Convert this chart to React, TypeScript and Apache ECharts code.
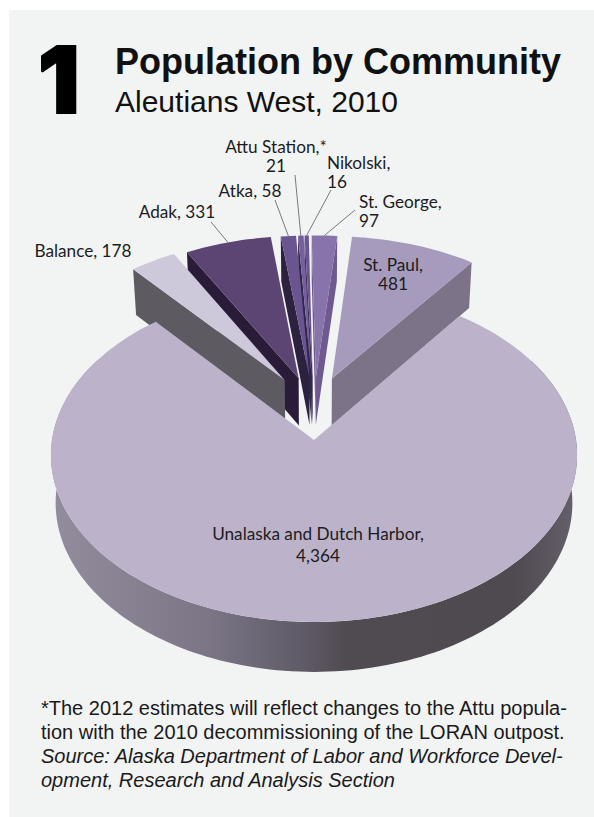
import React, { useEffect, useRef } from "react";
import * as echarts from "echarts";

// Population of each community, listed clockwise around the pie.
const communities = ["Balance", "Adak", "Atka", "Attu Station", "Nikolski", "St. George", "St. Paul", "Unalaska and Dutch Harbor"];
const population = [178, 331, 58, 21, 16, 97, 481, 4364];

const topColors = ["#cdc8da", "#5c4572", "#6b5590", "#75609c", "#6c5394", "#8874ab", "#a69bbc", "#bcb3cb"];
const sideColors = ["#5e5a62", "#2a1b38", "#2d2140", "#30254a", "#3a2c55", "#6f5a90", "#7d7389", "#504b52"];

// Label text and its placement on the page; y is the middle of the first line.
const labelText = ["Balance, 178", "Adak, 331", "Atka, 58", "Attu Station,*\n21", "Nikolski,\n16", "St. George,\n97", "St. Paul,\n481", "Unalaska and Dutch Harbor,\n4,364"];
const labelX = [83, 177, 250, 276, 327, 359, 393, 318];
const labelY = [250, 211, 190, 146, 162, 201, 264, 533];
const labelAlign = ["center", "center", "center", "center", "left", "left", "center", "center"];
const labelLeading = [19, 19, 19, 19, 19, 19, 19, 22];

// Leader lines: community index and the free end of each line.
const leaderSlice = [1, 2, 3, 4, 5];
const leaderX = [211, 275, 295, 331, 355];
const leaderY = [222, 200, 175, 190, 210];

const footnoteLines = [
  "*The 2012 estimates will reflect changes to the Attu popula-",
  "tion with the 2010 decommissioning of the LORAN outpost.",
];
const sourceLines = [
  "Source: Alaska Department of Labor and Workforce Devel-",
  "opment, Research and Analysis Section",
];

// Perspective camera for the tilted disc: unit radius, depth axis pointing away.
const CX = 314, CY = 440, FX = 262, FY = 165.6, P = 0.09, THICK = 48, NARROW = 0.018;
const project = (X: number, Y: number, h: number): number[] => {
  const w = 1 + P * Y;
  return [CX + (FX * X) / (w + NARROW * h), CY - (FY * Y) / w + h * THICK * (1 - 0.04 * Y)];
};

const START_ANGLE = -40.2;
const EXPLODE = 0.39;
const total = population.reduce((a, b) => a + b, 0);

type Slice = { start: number; end: number; ox: number; oy: number; r: number };
const slices: Slice[] = [];
{
  let a = START_ANGLE;
  population.forEach((v, i) => {
    const end = a + (v / total) * 360;
    const small = i < population.length - 1;
    const dir = (((a + end) / 2) * 0.5 * Math.PI) / 180;
    slices.push({
      start: a,
      end,
      ox: small ? EXPLODE * Math.sin(dir) : 0,
      oy: small ? EXPLODE * Math.cos(dir) : 0,
      r: 1,
    });
    a = end;
  });
}

const rim = (s: Slice, deg: number, h: number) => {
  const t = (deg * Math.PI) / 180;
  return project(s.ox + s.r * Math.sin(t), s.oy + s.r * Math.cos(t), h);
};
const arc = (s: Slice, from: number, to: number, h: number) => {
  const n = Math.max(2, Math.ceil(Math.abs(to - from) / 1.5));
  const out: number[][] = [];
  for (let i = 0; i <= n; i++) out.push(rim(s, from + ((to - from) * i) / n, h));
  return out;
};
const area = (pts: number[][]) => {
  let sum = 0;
  pts.forEach((p, i) => {
    const q = pts[(i + 1) % pts.length];
    sum += p[0] * q[1] - q[0] * p[1];
  });
  return sum;
};

// Painted from the middle of the fan outwards; the large slice comes last.
const paintOrder = slices
  .map((s, i) => ({ i, key: Math.abs((s.start + s.end) / 2) }))
  .sort((a, b) => a.key - b.key)
  .map((d) => d.i);

const rimGradient = () =>
  new echarts.graphic.LinearGradient(0, 0, 1, 0, [
    { offset: 0, color: "#928c9c" },
    { offset: 0.11, color: "#8a8494" },
    { offset: 0.3, color: "#7b7586" },
    { offset: 0.48, color: "#5f5a66" },
    { offset: 0.56, color: "#504b51" },
    { offset: 0.88, color: "#4f4a50" },
    { offset: 1, color: "#65606a" },
  ]);

const renderSlice = (params: any) => {
  const idx = paintOrder[params.dataIndex];
  const s = slices[idx];
  const apexTop = project(s.ox, s.oy, 0);
  const apexBot = project(s.ox, s.oy, 1);
  const children: any[] = [];
  const face = (points: number[][], fill: any) =>
    children.push({ type: "polygon", shape: { points }, style: { fill } });

  const left = [apexTop, rim(s, s.start, 0), rim(s, s.start, 1), apexBot];
  const right = [apexTop, rim(s, s.end, 0), rim(s, s.end, 1), apexBot];
  if (idx < population.length - 1) {
    if (area(left) < 0) face(left, sideColors[idx]);
    if (area(right) > 0) face(right, sideColors[idx]);
  } else {
    const from = Math.max(s.start, 60);
    const to = Math.min(s.end, 300);
    face([...arc(s, from, to, 0), ...arc(s, to, from, 1)], rimGradient());
  }
  face([apexTop, ...arc(s, s.start, s.end, 0)], topColors[idx]);
  return { type: "group", children };
};

const renderLeader = (params: any) => {
  const i = params.dataIndex;
  const s = slices[leaderSlice[i]];
  const end = rim(s, (s.start + s.end) / 2, 0);
  return {
    type: "line",
    shape: { x1: leaderX[i], y1: leaderY[i], x2: end[0], y2: end[1] },
    style: { stroke: "#444444", lineWidth: 0.7 },
  };
};

const LABEL_FONT = '17.2px Lato, "Open Sans", sans-serif';
const renderLabel = (params: any) => {
  const i = params.dataIndex;
  const leading = labelLeading[i];
  return {
    type: "text",
    style: {
      x: labelX[i],
      y: labelY[i] - leading / 2,
      text: labelText[i],
      font: LABEL_FONT,
      lineHeight: leading,
      fill: "#1c1c1c",
      align: labelAlign[i],
      verticalAlign: "top",
    },
  };
};

const pageText = (text: string, x: number, y: number, font: string, extra: any = {}) => ({
  type: "text",
  x,
  y,
  style: { text, font, fill: "#1a1a1a", verticalAlign: "middle", ...extra },
});

const ARIAL = '"Liberation Sans", Arial, sans-serif';

const App = () => {
  const ref = useRef<HTMLDivElement>(null);
  useEffect(() => {
    document.body.style.margin = "0";
    const chart = echarts.init(ref.current!, null, { renderer: "svg" });
    chart.setOption({
      animation: false,
      backgroundColor: "#ffffff",
      graphic: [
        { type: "rect", shape: { x: 9, y: 10, width: 585, height: 807 }, style: { fill: "#f2f4f4" } },
        pageText("1", 38, 79, `900 92px Inter, Roboto, ${ARIAL}`, { fill: "#000000", stroke: "#000000", lineWidth: 2 }),
        pageText("Population by Community", 115, 61, `bold 36px ${ARIAL}`, { fill: "#111111" }),
        pageText("Aleutians West, 2010", 115, 101, `30px ${ARIAL}`, { fill: "#111111" }),
        ...footnoteLines.map((t, i) => pageText(t, 41, 708 + i * 24, `20px ${ARIAL}`)),
        ...sourceLines.map((t, i) => pageText(t, 41, 756 + i * 24, `italic 20px ${ARIAL}`)),
      ],
      series: [
        { type: "custom", coordinateSystem: "none", silent: true, z: 2, data: paintOrder.map((i) => population[i]), renderItem: renderSlice },
        { type: "custom", coordinateSystem: "none", silent: true, z: 3, data: leaderSlice, renderItem: renderLeader },
        { type: "custom", coordinateSystem: "none", silent: true, z: 4, data: labelText, renderItem: renderLabel },
      ],
    });
    return () => chart.dispose();
  }, []);
  return <div ref={ref} style={{ width: 594, height: 817 }} />;
};

export default App;
